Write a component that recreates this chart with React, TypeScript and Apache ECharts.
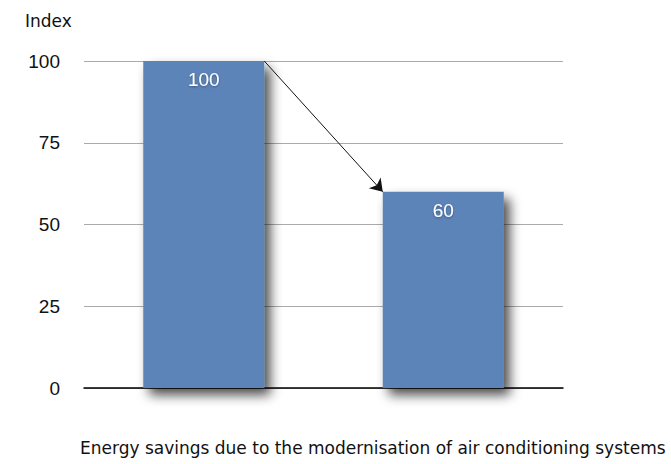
import React, { useEffect, useRef } from "react";
import * as echarts from "echarts";

const categories = ["Before", "After"];
const values = [100, 60];
const yTicks = { min: 0, max: 100, interval: 25 };
const yAxisTitle = "Index";
const caption = "Energy savings due to the modernisation of air conditioning systems";

const BAR_WIDTH = 121;

export default function App() {
  const ref = useRef<HTMLDivElement>(null);
  useEffect(() => {
    if (!ref.current) return;
    const chart = echarts.init(ref.current, null, { renderer: "svg", width: 671, height: 464 });
    const option: any = {
      animation: false,
      grid: { left: 84, right: 108, top: 61, bottom: 76, containLabel: false },
      xAxis: {
        type: "category",
        data: categories,
        axisLine: { show: true, lineStyle: { color: "#000", width: 1.5 } },
        axisTick: { show: false },
        axisLabel: { show: false },
      },
      yAxis: {
        type: "value",
        min: yTicks.min,
        max: yTicks.max,
        interval: yTicks.interval,
        axisLine: { show: false },
        axisTick: { show: false },
        axisLabel: {
          margin: 24,
          fontSize: 19,
          color: "#111",
          fontFamily: "Liberation Sans, Arial, sans-serif",
        },
        splitLine: { lineStyle: { color: "#aaa", width: 1 } },
      },
      graphic: [
        {
          type: "text",
          left: 25,
          top: 12,
          style: {
            text: yAxisTitle,
            fontSize: 17,
            fill: "#111",
            fontFamily: "DejaVu Sans, sans-serif",
          },
        },
        {
          type: "text",
          left: 80,
          top: 439,
          style: {
            text: caption,
            fontSize: 17,
            fill: "#111",
            fontFamily: "DejaVu Sans, sans-serif",
          },
        },
      ],
      series: [
        {
          type: "bar",
          data: values,
          barWidth: BAR_WIDTH,
          itemStyle: {
            color: "#5b84b8",
            shadowBlur: 12,
            shadowColor: "rgba(0,0,0,0.7)",
            shadowOffsetX: 6,
            shadowOffsetY: 7,
          },
          label: {
            show: true,
            position: "insideTop",
            distance: 9,
            color: "#fff",
            fontSize: 19,
            fontFamily: "Liberation Sans, Arial, sans-serif",
            textShadowColor: "rgba(0,0,0,0.35)",
            textShadowBlur: 2,
            textShadowOffsetY: 1,
          },
        },
      ],
    };
    chart.setOption(option);
    const p1 = chart.convertToPixel({ seriesIndex: 0 }, [categories[0], values[0]]) as number[];
    const p2 = chart.convertToPixel({ seriesIndex: 0 }, [categories[1], values[1]]) as number[];
    if (p1 && p2) {
      chart.setOption({
        series: [
          {
            markLine: {
              silent: true,
              symbol: ["none", "arrow"],
              symbolSize: 12,
              label: { show: false },
              lineStyle: { color: "#111", width: 1, type: "solid" },
              data: [
                [
                  { x: p1[0] + BAR_WIDTH / 2, y: p1[1] },
                  { x: p2[0] - BAR_WIDTH / 2, y: p2[1] },
                ],
              ],
            },
          },
        ],
      });
    }
    return () => chart.dispose();
  }, []);
  return (
    <div
      ref={ref}
      style={{ position: "fixed", left: 0, top: 0, width: 671, height: 464, background: "#fff" }}
    />
  );
}
